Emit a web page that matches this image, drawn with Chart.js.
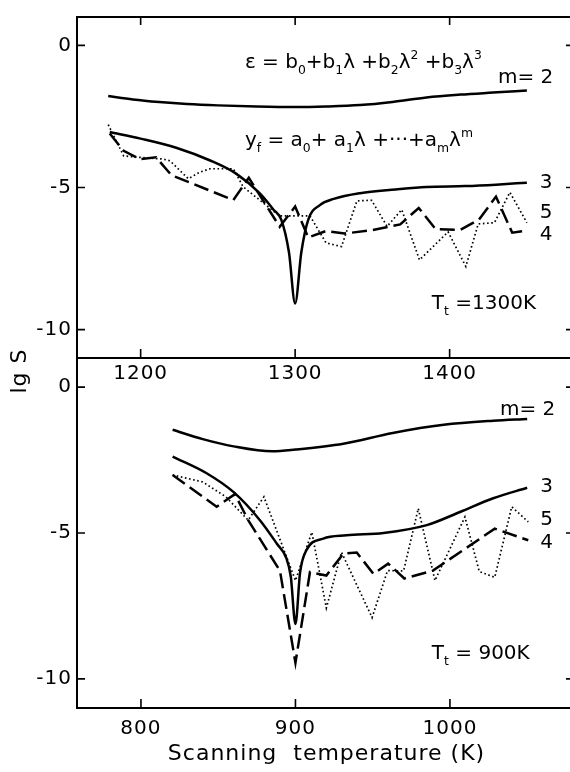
<!DOCTYPE html>
<html>
<head>
<meta charset="utf-8">
<script src="https://cdn.jsdelivr.net/npm/chart.js@4/dist/chart.umd.min.js"></script>
<style>
  body { margin: 0; background: #fff; overflow: hidden; }
  #wrap { position: relative; width: 570px; height: 772px; overflow: hidden; }
  #wrap canvas { position: absolute; left: 0; top: 0; }
</style>
</head>
<body>
<div id="wrap">
  <canvas id="top_chart" width="580" height="772"></canvas>
  <canvas id="bottom_chart" width="580" height="772"></canvas>
</div>
<script>
// 目盛り
const topXTicks = [1200, 1300, 1400];
const bottomXTicks = [800, 900, 1000];
const yTicks = [0, -5, -10];

// 上段 Tt = 1300K
const top2Temp  = [1179, 1195, 1212, 1230, 1250, 1275, 1300, 1320, 1342, 1363, 1385, 1407, 1428, 1450];
const top2Value = [-1.78, -1.9, -1.99, -2.06, -2.11, -2.15, -2.17, -2.15, -2.1, -1.99, -1.83, -1.73, -1.66, -1.59];
const top3Temp  = [1180, 1200, 1223, 1245, 1262, 1277, 1286, 1291, 1296, 1300, 1304, 1308.5, 1316, 1325, 1342, 1365, 1385, 1410, 1430, 1450];
const top3Value = [-3.05, -3.28, -3.6, -4.05, -4.52, -5.2, -5.78, -6.13, -7.28, -9.08, -7.28, -6.13, -5.62, -5.4, -5.2, -5.07, -4.98, -4.95, -4.9, -4.83];
const top4Temp  = [1180, 1189, 1199.5, 1210, 1220, 1260, 1270, 1290, 1300, 1308.5, 1320, 1332, 1350, 1368, 1380, 1391, 1407, 1419, 1430, 1440.5, 1450];
const top4Value = [-3.1, -3.71, -4.0, -3.94, -4.57, -5.44, -4.66, -6.38, -5.67, -6.76, -6.53, -6.62, -6.5, -6.3, -5.72, -6.47, -6.49, -6.13, -5.32, -6.59, -6.52];
const top5Temp  = [1179, 1189, 1199.5, 1214.6, 1219, 1230.8, 1238.4, 1245, 1260, 1266.4, 1277, 1290, 1309.6, 1320, 1330, 1340, 1349.5, 1359.5, 1369, 1380.5, 1399, 1410.5, 1418.5, 1429, 1439, 1450];
const top5Value = [-2.79, -3.89, -3.94, -4.0, -4.06, -4.69, -4.46, -4.34, -4.34, -4.98, -5.44, -6.0, -6.0, -6.95, -7.08, -5.47, -5.45, -6.37, -5.78, -7.55, -6.56, -7.78, -6.28, -6.24, -5.17, -6.24];

// 下段 Tt = 900K
const bot2Temp  = [820.5, 840, 860, 885, 900, 931, 963, 996, 1028, 1050];
const bot2Value = [-1.46, -1.78, -2.03, -2.2, -2.14, -1.94, -1.57, -1.29, -1.15, -1.09];
const bot3Temp  = [820.5, 842.5, 860, 877, 888, 894, 897, 900, 903, 907, 918, 933, 957, 985, 1006.5, 1028, 1050];
const bot3Value = [-2.38, -2.95, -3.6, -4.56, -5.37, -5.85, -6.5, -8.12, -6.35, -5.6, -5.19, -5.08, -5.0, -4.73, -4.28, -3.81, -3.45];
const bot4Temp  = [820.5, 849, 860.8, 869.4, 890, 900, 909.4, 920, 931, 939.7, 950.5, 960, 970.5, 989, 1029, 1050.7];
const bot4Value = [-3.01, -4.1, -3.67, -4.56, -6.3, -9.45, -6.34, -6.46, -5.71, -5.67, -6.4, -6.05, -6.56, -6.29, -4.85, -5.25];
const bot5Temp  = [820.5, 840, 855, 869.4, 879.6, 900, 910.6, 920, 929.8, 949.6, 959.6, 970, 979.5, 990.3, 1009.7, 1019, 1029, 1040, 1050.7];
const bot5Value = [-3.01, -3.25, -3.76, -4.56, -3.76, -6.63, -4.97, -7.57, -5.66, -7.9, -6.29, -6.3, -4.16, -6.63, -4.45, -6.32, -6.52, -4.1, -4.62];

const fontFamily = '"DejaVu Sans", sans-serif';

// 上付き・下付きの文字を描く
function drawRich(ctx, x, y, parts, size) {
    let cx = x;
    parts.forEach(function (p) {
        const text = p[0], kind = p[1];
        const fs = kind ? size * 0.62 : size;
        const dy = kind === 'sub' ? size * 0.28 : (kind === 'sup' ? -size * 0.45 : 0);
        ctx.font = fs + 'px ' + fontFamily;
        ctx.fillText(text, cx, y + dy);
        cx += ctx.measureText(text).width;
    });
}

// 文字間隔を少し広げる
const spacingPlugin = {
    id: 'spacing',
    beforeDraw(chart) { chart.ctx.letterSpacing = '1px'; }
};

// 枠線・内向きの目盛り・注記
const decorPlugin = {
    id: 'decor',
    afterDraw(chart, args, opts) {
        const ctx = chart.ctx, a = chart.chartArea;
        const sx = chart.scales.x, sy = chart.scales.y;
        ctx.save();
        ctx.letterSpacing = '0px';
        ctx.strokeStyle = '#000';
        ctx.fillStyle = '#000';
        ctx.lineWidth = 2;
        ctx.strokeRect(a.left, a.top, a.right - a.left, a.bottom - a.top);
        ctx.lineWidth = 1.6;
        ctx.beginPath();
        sx.ticks.forEach(function (t) {
            const px = sx.getPixelForValue(t.value);
            if (opts.topTicks) { ctx.moveTo(px, a.top); ctx.lineTo(px, a.top + 8); }
            ctx.moveTo(px, a.bottom); ctx.lineTo(px, a.bottom - 9);
        });
        sy.ticks.forEach(function (t) {
            const py = sy.getPixelForValue(t.value);
            ctx.moveTo(a.left, py); ctx.lineTo(a.left + 8, py);
            ctx.moveTo(a.right, py); ctx.lineTo(a.right - 10, py);
        });
        ctx.stroke();
        ctx.textAlign = 'left';
        ctx.textBaseline = 'alphabetic';
        opts.labels.forEach(function (l) {
            drawRich(ctx, sx.getPixelForValue(l.x), sy.getPixelForValue(l.y), l.parts, l.size);
        });
        if (opts.sideTitle) {
            ctx.translate(20, 371);
            ctx.rotate(-Math.PI / 2);
            ctx.textAlign = 'center';
            ctx.textBaseline = 'middle';
            ctx.letterSpacing = '1px';
            ctx.font = '22px ' + fontFamily;
            ctx.fillText(opts.sideTitle, 0, 0);
        }
        ctx.restore();
    }
};

function series(temps, values, style) {
    const d = {
        data: temps.map(function (t, i) { return { x: t, y: values[i] }; }),
        borderColor: '#000',
        pointRadius: 0,
        fill: false,
        borderWidth: 2.5,
        tension: 0
    };
    if (style === 'solid') d.cubicInterpolationMode = 'monotone';
    if (style === 'dash') d.borderDash = [15, 6];
    if (style === 'dot') { d.borderDash = [1.6, 2.6]; d.borderWidth = 1.7; }
    return d;
}

function makeChart(id, datasets, xMin, xMax, xTicks, padding, xHeight, xLabelPad, xTitle, decor) {
    return new Chart(document.getElementById(id).getContext('2d'), {
        type: 'line',
        data: { datasets: datasets },
        options: {
            responsive: false,
            animation: false,
            events: [],
            layout: { padding: padding },
            plugins: { legend: { display: false }, tooltip: { enabled: false }, decor: decor },
            scales: {
                x: {
                    type: 'linear', min: xMin, max: xMax,
                    afterBuildTicks: function (s) { s.ticks = xTicks.map(function (v) { return { value: v }; }); },
                    afterFit: function (s) { s.height = xHeight; },
                    grid: { display: false, drawTicks: false }, border: { display: false },
                    ticks: { font: { family: fontFamily, size: 20 }, color: '#000', padding: xLabelPad, maxRotation: 0,
                             callback: function (v) { return String(v); } },
                    title: xTitle ? { display: true, text: xTitle, color: '#000', font: { family: fontFamily, size: 22 }, padding: { top: 0, bottom: 5 } } : { display: false }
                },
                y: {
                    type: 'linear', min: -11, max: 1,
                    afterBuildTicks: function (s) { s.ticks = yTicks.map(function (v) { return { value: v }; }); },
                    afterFit: function (s) { s.width = 77; },
                    grid: { display: false, drawTicks: false }, border: { display: false },
                    ticks: { font: { family: fontFamily, size: 20 }, color: '#000', padding: 5,
                             callback: function (v) { return String(v); } }
                }
            }
        },
        plugins: [spacingPlugin, decorPlugin]
    });
}

// 上段
makeChart('top_chart', [
    series(top2Temp, top2Value, 'solid'),
    series(top3Temp, top3Value, 'solid'),
    series(top4Temp, top4Value, 'dash'),
    series(top5Temp, top5Value, 'dot')
], 1158.8, 1481.8, topXTicks, { left: 0, top: 11, right: 4, bottom: 377 }, 37, 4, null, {
    topTicks: true,
    sideTitle: 'lg S',
    labels: [
        { x: 1267.5, y: -0.8, size: 20, parts: [['ε = b', 0], ['0', 'sub'], ['+b', 0], ['1', 'sub'], ['λ +b', 0], ['2', 'sub'], ['λ', 0], ['2', 'sup'], [' +b', 0], ['3', 'sub'], ['λ', 0], ['3', 'sup']] },
        { x: 1431.3, y: -1.34, size: 20, parts: [['m= 2', 0]] },
        { x: 1267.5, y: -3.55, size: 20, parts: [['y', 0], ['f', 'sub'], [' = a', 0], ['0', 'sub'], ['+ a', 0], ['1', 'sub'], ['λ +···+a', 0], ['m', 'sub'], ['λ', 0], ['m', 'sup']] },
        { x: 1458.4, y: -5.03, size: 20, parts: [['3', 0]] },
        { x: 1458.4, y: -6.07, size: 20, parts: [['5', 0]] },
        { x: 1458.4, y: -6.83, size: 20, parts: [['4', 0]] },
        { x: 1388.5, y: -9.28, size: 20, parts: [['T', 0], ['t', 'sub'], [' =1300K', 0]] }
    ]
});

// 下段
makeChart('bottom_chart', [
    series(bot2Temp, bot2Value, 'solid'),
    series(bot3Temp, bot3Value, 'solid'),
    series(bot4Temp, bot4Value, 'dash'),
    series(bot5Temp, bot5Value, 'dot')
], 758.6, 1081.6, bottomXTicks, { left: 0, top: 358, right: 4, bottom: 0 }, 64, 9, 'Scanning  temperature (K)', {
    topTicks: false,
    labels: [
        { x: 1032.4, y: -0.94, size: 20, parts: [['m= 2', 0]] },
        { x: 1058.4, y: -3.6, size: 20, parts: [['3', 0]] },
        { x: 1058.4, y: -4.73, size: 20, parts: [['5', 0]] },
        { x: 1058.4, y: -5.53, size: 20, parts: [['4', 0]] },
        { x: 988.3, y: -9.32, size: 20, parts: [['T', 0], ['t', 'sub'], [' = 900K', 0]] }
    ]
});
</script>
</body>
</html>
